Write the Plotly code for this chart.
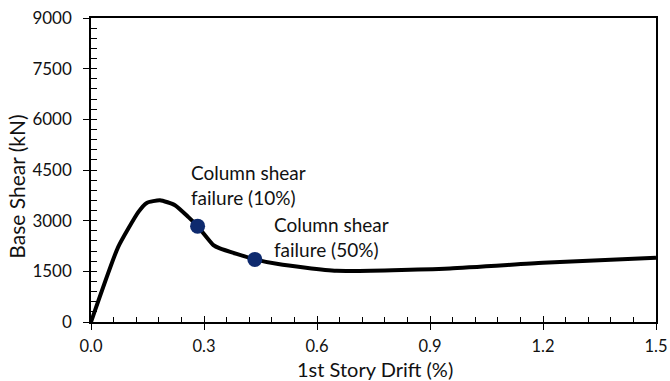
import plotly.graph_objects as go

# Pushover curve: first-story drift (%) vs base shear (kN)
drift = [0.0, 0.072, 0.126, 0.148, 0.183, 0.223, 0.258, 0.283, 0.325, 0.342,
         0.435, 0.497, 0.652, 0.953, 1.2, 1.5]
shear = [0, 2218, 3260, 3526, 3606, 3458, 3112, 2838, 2276, 2178,
         1853, 1714, 1516, 1587, 1753, 1905]

# Column shear failure events
event_drift = [0.283, 0.435]
event_shear = [2838, 1853]
event_text = ["Column shear<br>failure (10%)", "Column shear<br>failure (50%)"]
label_pos_x = [0.260, 0.481]
label_pos_y = [4064, 2527]

x_ticks = [0.0, 0.3, 0.6, 0.9, 1.2, 1.5]
y_ticks = [0, 1500, 3000, 4500, 6000, 7500, 9000]

FONT = "Lato"
TXT = "#111"
fig = go.Figure()
fig.add_trace(go.Scatter(x=drift, y=shear, mode="lines",
                         line=dict(color="black", width=4, shape="spline", smoothing=0.5),
                         hoverinfo="skip", showlegend=False))
fig.add_trace(go.Scatter(x=event_drift, y=event_shear, mode="markers",
                         marker=dict(color="#0e2a6e", size=15),
                         showlegend=False))
# invisible trace to anchor the inner-tick overlay axes
fig.add_trace(go.Scatter(x=[], y=[], xaxis="x2", yaxis="y2", showlegend=False))

for tx, ty, t in zip(label_pos_x, label_pos_y, event_text):
    fig.add_annotation(x=tx, y=ty, text=t, showarrow=False, xanchor="left",
                       yanchor="middle", align="left",
                       font=dict(family=FONT, size=19, color=TXT))

# axis titles
fig.add_annotation(xref="paper", yref="paper", x=-0.131, y=0.445, text="Base Shear (kN)",
                   textangle=-90, showarrow=False, xanchor="center", yanchor="middle",
                   font=dict(family=FONT, size=21, color=TXT))
fig.add_annotation(xref="paper", yref="paper", x=0.503, y=-0.153, text="1st Story Drift (%)",
                   showarrow=False, xanchor="center", yanchor="middle",
                   font=dict(family=FONT, size=20, color=TXT))

axis_common = dict(showgrid=False, zeroline=False, color="black", automargin=False)
fig.update_layout(
    width=670, height=381,
    margin=dict(l=91, r=14, t=18, b=59),
    plot_bgcolor="white", paper_bgcolor="white",
    font=dict(family=FONT, size=19, color=TXT),
    xaxis=dict(range=[0, 1.5], tickvals=x_ticks, ticktext=[f"{v:.1f}" for v in x_ticks],
               ticks="outside", ticklen=6, tickwidth=1.3, tickcolor="black",
               ticklabelstandoff=2, tickfont=dict(size=16.5, color=TXT),
               showline=True, linewidth=1.5, linecolor="black", mirror=True,
               **axis_common),
    yaxis=dict(range=[0, 9000], tickvals=y_ticks,
               ticks="outside", ticklen=6, tickwidth=1.3, tickcolor="black",
               ticklabelstandoff=8, tickfont=dict(size=17, color=TXT),
               showline=True, linewidth=1.5, linecolor="black", mirror=True,
               **axis_common),
    xaxis2=dict(range=[0, 1.5], overlaying="x", anchor="y2", dtick=0.3, tick0=0,
                ticks="inside", ticklen=6, tickwidth=1.3, tickcolor="black",
                showticklabels=False, showline=False,
                minor=dict(dtick=0.06, ticks="inside", ticklen=5, tickwidth=1.3, tickcolor="black"),
                **axis_common),
    yaxis2=dict(range=[0, 9000], overlaying="y", anchor="x2", dtick=1500, tick0=0,
                ticks="inside", ticklen=6, tickwidth=1.3, tickcolor="black",
                showticklabels=False, showline=False,
                minor=dict(dtick=300, ticks="inside", ticklen=6, tickwidth=1.3, tickcolor="black"),
                **axis_common),
)

fig.write_html("out.html")
